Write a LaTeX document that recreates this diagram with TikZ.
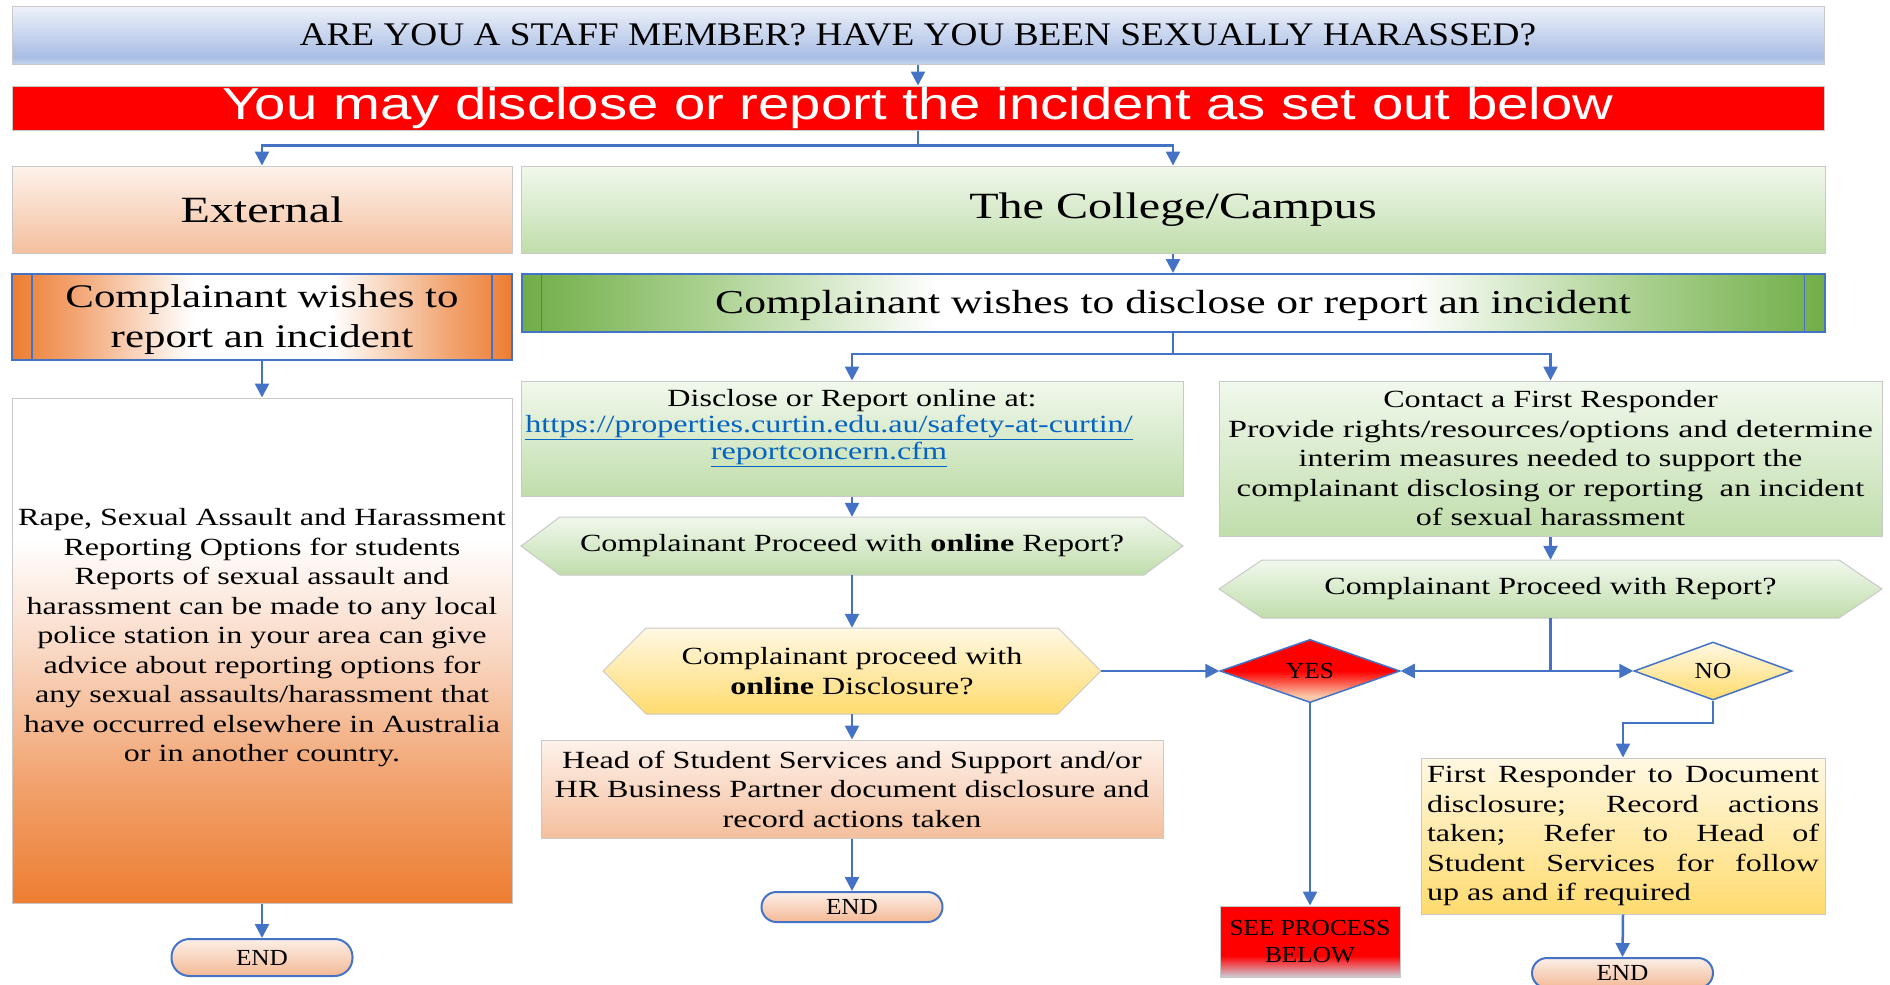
\documentclass[tikz,border=0pt]{standalone}
\usepackage{fontspec}
\usepackage{graphicx}
\setmainfont{Liberation Serif}[FakeStretch=1.3]
\newfontfamily\titlefont{Liberation Serif}[FakeStretch=1.13]
\newfontfamily\shortfont{Liberation Serif}[FakeStretch=1.1]
\newfontfamily\bannerfont{Liberation Sans}[FakeStretch=1.26]
\usetikzlibrary{arrows.meta,shapes.geometric}

\definecolor{connblue}{HTML}{4472C4}
\definecolor{boxgray}{HTML}{C9C9C9}
\definecolor{pured}{HTML}{FF0000}
\definecolor{hdrlow}{HTML}{C4D2EE}
\definecolor{hdrmid}{HTML}{A9BDE4}
\definecolor{hdrtop}{HTML}{EEF2FA}
\definecolor{orng}{HTML}{ED7D31}
\definecolor{orngmid}{HTML}{F1A26E}
\definecolor{peachlt}{HTML}{F9D8C4}
\definecolor{pchtop}{HTML}{FDF2EB}
\definecolor{pchbot}{HTML}{F4BF9D}
\definecolor{grntop}{HTML}{F1F8ED}
\definecolor{grnbot}{HTML}{C0DDAB}
\definecolor{gdark}{HTML}{70AD47}
\definecolor{gmid}{HTML}{A9D08E}
\definecolor{yeltop}{HTML}{FFF8E3}
\definecolor{yelbot}{HTML}{FFDB6E}
\definecolor{endtop}{HTML}{FCEFE7}
\definecolor{endbot}{HTML}{F4B995}
\definecolor{yespeach}{HTML}{F8C8A8}
\definecolor{seegray}{HTML}{CDCDD8}
\definecolor{urlblue}{HTML}{0563C1}

\pgfdeclareverticalshading{hdrsh}{100bp}{color(0bp)=(hdrlow); color(25bp)=(hdrlow); color(31bp)=(hdrmid); color(75bp)=(hdrtop); color(100bp)=(hdrtop)}
\pgfdeclareverticalshading{bigsh}{100bp}{color(0bp)=(orng); color(25bp)=(orng); color(37bp)=(orngmid); color(50bp)=(peachlt); color(61bp)=(white); color(100bp)=(white)}
\pgfdeclarehorizontalshading{crepsh}{100bp}{color(0bp)=(orng); color(25bp)=(orng); color(31bp)=(orngmid); color(43bp)=(white); color(57bp)=(white); color(69bp)=(orngmid); color(75bp)=(orng); color(100bp)=(orng)}
\pgfdeclarehorizontalshading{gbarsh}{100bp}{color(0bp)=(gdark); color(25bp)=(gdark); color(32bp)=(gmid); color(41bp)=(white); color(59bp)=(white); color(68bp)=(gmid); color(75bp)=(gdark); color(100bp)=(gdark)}
\pgfdeclareverticalshading{yessh}{100bp}{color(0bp)=(yespeach); color(25bp)=(yespeach); color(30bp)=(yespeach); color(50bp)=(pured); color(100bp)=(pured)}
\pgfdeclareverticalshading{seesh}{100bp}{color(0bp)=(seegray); color(25bp)=(seegray); color(40bp)=(pured); color(100bp)=(pured)}

\tikzset{
  gbox/.style={rectangle, draw=boxgray, line width=1pt, inner sep=0pt, align=center},
  bluebox/.style={rectangle, draw=connblue, line width=2pt, inner sep=0pt, align=center},
  conn/.style={draw=connblue, line width=2.5pt, -{Triangle[length=14pt,width=14pt]}},
  plain/.style={draw=connblue, line width=2.5pt},
  inner/.style={draw=connblue, line width=1.5pt},
  body/.style={font=\fontsize{24.7}{29.5}\selectfont},
  shorttxt/.style={font=\shortfont\fontsize{23}{27}\selectfont},
  endbox/.style={rectangle, draw=connblue, line width=2pt, top color=endtop, bottom color=endbot, minimum width=181pt, inner sep=0pt, shorttxt},
  hexfill/.style={draw=boxgray, line width=1pt},
  txt/.style={inner sep=0pt, align=center}
}

\newcommand\hexpath[6]{%
  \path[#6] (#1-#3,#2) -- (#1-#3+#5,#2-#4) -- (#1+#3-#5,#2-#4) -- (#1+#3,#2) -- (#1+#3-#5,#2+#4) -- (#1-#3+#5,#2+#4) -- cycle;}
\newcommand\urlline[1]{\hbox{\textcolor{urlblue}{\underline{#1}}\kern46pt}}

\begin{document}
\begin{tikzpicture}[x=1pt,y=-1pt]
\useasboundingbox (0,0) rectangle (1890,985);
\clip (0,0) rectangle (1890,985);

% header and banner
\node[gbox, shade, shading=hdrsh, minimum width=1812pt, minimum height=58pt,
      font=\titlefont\fontsize{33}{40}\selectfont] (hdr) at (918,35)
      {ARE YOU A STAFF MEMBER? HAVE YOU BEEN SEXUALLY HARASSED?};
\node[gbox, fill=pured, minimum width=1812pt, minimum height=44pt, text=white,
      font=\bannerfont\fontsize{44.7}{50}\selectfont] (ban) at (918,108)
      {You may disclose or report the incident as set out below};

% top boxes
\node[gbox, top color=pchtop, bottom color=pchbot, minimum width=500pt, minimum height=87pt,
      font=\fontsize{37}{44}\selectfont] (ext) at (262,209.5) {External};
\node[gbox, top color=grntop, bottom color=grnbot, minimum width=1304pt, minimum height=87pt,
      font=\fontsize{37}{44}\selectfont] (col) at (1173,209.5) {The College/Campus};

\node[bluebox, shade, shading=crepsh, minimum width=500pt, minimum height=86pt] (crep) at (262,317) {};
\draw[inner] ([xshift=21pt]crep.north west) -- ([xshift=21pt]crep.south west);
\draw[inner] ([xshift=-21pt]crep.north east) -- ([xshift=-21pt]crep.south east);
\node[txt, font=\fontsize{33}{40}\selectfont] (creptxt) at (262,320) {Complainant wishes to\\report an incident};

\node[bluebox, shade, shading=gbarsh, minimum width=1303pt, minimum height=58pt] (gbar) at (1173,303) {};
\draw[inner] ([xshift=21pt]gbar.north west) -- ([xshift=21pt]gbar.south west);
\draw[inner] ([xshift=-21pt]gbar.north east) -- ([xshift=-21pt]gbar.south east);
\node[txt, font=\fontsize{33.5}{40}\selectfont] (gbartxt) at (1173,305.5) {Complainant wishes to disclose or report an incident};

% left column
\node[gbox, shade, shading=bigsh, minimum width=500pt, minimum height=505pt] (big) at (262,650.5) {};
\node[txt, body] (bigtxt) at (262,638) {Rape, Sexual Assault and Harassment\\Reporting Options for students\\Reports of sexual assault and\\harassment can be made to any local\\police station in your area can give\\advice about reporting options for\\any sexual assaults/harassment that\\have occurred elsewhere in Australia\\or in another country.};
\node[endbox, rounded corners=18pt, minimum height=37pt] (end1) at (262,957.5) {END};

% middle column
\node[gbox, top color=grntop, bottom color=grnbot, minimum width=662pt, minimum height=115pt] (disc) at (852,438.5) {};
\node[txt, font=\fontsize{24.7}{26.5}\selectfont] (disctxt) at (852,428) {Disclose or Report online at:\\
  \urlline{https://properties.curtin.edu.au/safety-at-curtin/}\\
  \urlline{reportconcern.cfm}};

\hexpath{852}{546}{331}{29}{39}{hexfill, top color=grntop, bottom color=grnbot}
\node[txt, body, minimum width=662pt, minimum height=58pt] (hex1) at (852,546)
      {Complainant Proceed with \textbf{online} Report?};

\hexpath{852}{671}{249}{43}{43}{hexfill, top color=yeltop, bottom color=yelbot}
\node[txt, body, minimum width=498pt, minimum height=86pt] (yel) at (852,671)
      {Complainant proceed with\\\textbf{online} Disclosure?};

\node[gbox, body, top color=pchtop, bottom color=pchbot, minimum width=622pt, minimum height=98pt] (head) at (852,789)
      {Head of Student Services and Support and/or\\HR Business Partner document disclosure and\\record actions taken};
\node[endbox, rounded corners=15pt, minimum height=30pt] (end2) at (852,907) {END};

% right column
\node[gbox, body, top color=grntop, bottom color=grnbot, minimum width=663pt, minimum height=155pt] (cont) at (1550.5,458.5)
      {Contact a First Responder\\\scalebox{1.065}[1]{Provide rights/resources/options and determine}\\interim measures needed to support the\\\scalebox{1.02}[1]{complainant disclosing or reporting\ \ an incident}\\of sexual harassment};

\hexpath{1550.5}{589}{331.5}{29}{43}{hexfill, top color=grntop, bottom color=grnbot}
\node[txt, body, minimum width=663pt, minimum height=58pt] (hex2) at (1550.5,589)
      {Complainant Proceed with Report?};

\node[diamond, draw=connblue, line width=1.5pt, shade, shading=yessh, minimum width=180pt, minimum height=59pt,
      inner sep=0pt, shorttxt] (yes) at (1310,671) {YES};
\node[diamond, draw=connblue, line width=1.5pt, top color=yeltop, bottom color=yelbot, minimum width=158pt, minimum height=58pt,
      inner sep=0pt, shorttxt] (no) at (1713,671) {NO};

\node[gbox, shade, shading=seesh, minimum width=180pt, minimum height=71pt, shorttxt] (see) at (1310,941.5)
      {SEE PROCESS\\BELOW};

\node[gbox, body, align=left, top color=yeltop, bottom color=yelbot, minimum width=404pt, minimum height=156pt] (fr) at (1623,836)
      {\makebox[392pt][s]{First Responder to Document}\\
       \makebox[392pt][s]{disclosure; Record actions}\\
       \makebox[392pt][s]{taken; Refer to Head of}\\
       \makebox[392pt][s]{Student Services for follow}\\
       up as and if required};
\node[endbox, rounded corners=15pt, minimum height=30pt] (end3) at (1622.5,973) {END};

% connectors
\draw[conn] (hdr.south) -- (ban.north);
\draw[plain] (ban.south) -- ++(0,15) coordinate (b1);
\draw[conn] (b1) -| (ext.north);
\draw[conn] (b1) -| (col.north);
\draw[conn] (col.south) -- (gbar.north);
\draw[conn] (crep.south) -- (big.north);
\draw[conn] (big.south) -- (end1.north);
\draw[plain] (gbar.south) -- ++(0,21) coordinate (g1);
\draw[conn] (g1) -| (disc.north);
\draw[conn] (g1) -| (cont.north);
\draw[conn] (disc.south) -- (hex1.north);
\draw[conn] (hex1.south) -- (yel.north);
\draw[conn] (yel.south) -- (head.north);
\draw[conn] (head.south) -- (end2.north);
\draw[conn] (yel.east) -- (yes.west);
\draw[conn] (cont.south) -- (hex2.north);
\draw[plain] (hex2.south) -- (hex2.south |- yes.east) coordinate (jn);
\draw[conn] (jn) -- (yes.east);
\draw[conn] (jn) -- (no.west);
\draw[conn] (yes.south) -- (see.north);
\draw[conn] (no.south) -- ++(0,22) -| (fr.north);
\draw[conn] (fr.south) -- (end3.north);
\end{tikzpicture}
\end{document}
